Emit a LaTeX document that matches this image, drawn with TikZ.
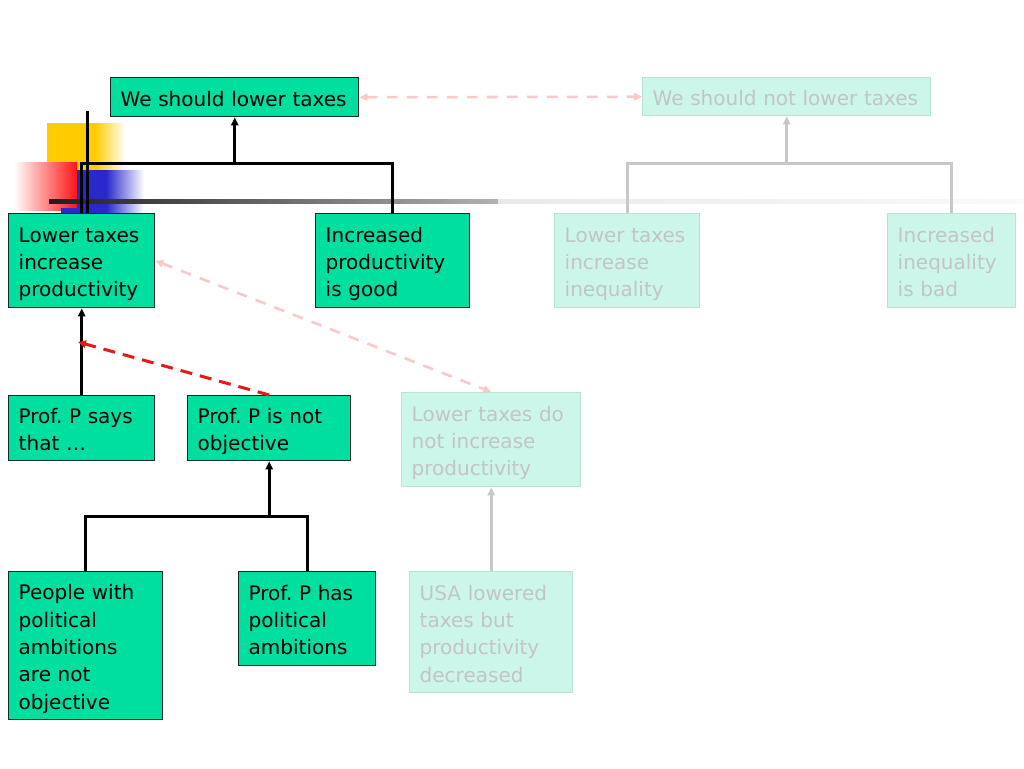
\documentclass[tikz,border=0pt]{standalone}
\usepackage{fontspec}
\setmainfont{DejaVu Sans}
\usetikzlibrary{arrows.meta}
\frenchspacing
\definecolor{gfill}{RGB}{0,222,160}
\definecolor{gdraw}{RGB}{20,45,35}
\definecolor{pfill}{RGB}{204,246,234}
\definecolor{pdraw}{RGB}{185,228,212}
\definecolor{ptext}{RGB}{196,196,196}
\definecolor{gline}{RGB}{200,200,200}
\definecolor{redline}{RGB}{230,25,25}
\definecolor{pinkline}{RGB}{250,200,200}
\definecolor{tyellow}{RGB}{255,204,0}
\definecolor{tblue}{RGB}{40,40,205}
\definecolor{tred}{RGB}{255,20,20}
\newcommand{\topstrut}{\rule{0pt}{16.8pt}}
\newcommand{\botstrut}{\rule[-3.5pt]{0pt}{3.5pt}}
\begin{document}
\begin{tikzpicture}[x=0.75pt,y=-0.75pt,
  boxbase/.style={rectangle, anchor=north west, align=left, inner xsep=7.5pt, inner ysep=0pt,
    font=\fontsize{15}{20.5}\selectfont, line width=1.1pt,
    execute at begin node=\topstrut, execute at end node=\botstrut},
  gbox/.style={boxbase, fill=gfill, draw=gdraw, text=black},
  pbox/.style={boxbase, fill=pfill, draw=pdraw, text=ptext},
  conn/.style={line width=2.25pt, draw=black},
  gconn/.style={line width=2.25pt, draw=gline},
  tip/.style={-{Triangle[length=6pt,width=5.5pt]}},
  reddash/.style={line width=2.25pt, draw=redline, dash pattern=on 9pt off 6pt},
  pinkdash/.style={line width=1.9pt, draw=pinkline, dash pattern=on 8pt off 7pt},
]
\useasboundingbox (0,0) rectangle (1024,768);
\fill[white] (0,0) rectangle (1024,768);

% template decoration
\fill[tyellow] (47,123) rectangle (95,178);
\shade[left color=tyellow, right color=white] (95,123) rectangle (125,178);
\shade[left color=white, right color=tred] (14,162) rectangle (77,210);
\fill[tblue] (77,170) rectangle (106,213);
\shade[left color=tblue, right color=white] (106,170) rectangle (144,213);
\fill[tblue] (61,208) rectangle (77,213);
\shade[left color=black!88, right color=black!30] (49,199) rectangle (498,203.5);
\shade[left color=black!9, right color=black!2] (498,199.5) rectangle (1024,203);
\draw[line width=2.25pt] (87,111) -- (87,213);

% nodes
\node[gbox, text width=171pt, minimum height=29.25pt] (a) at (110,77) {We should lower taxes};
\node[pbox, text width=201pt, minimum height=28.5pt] (b) at (642,77) {We should not lower taxes};
\node[gbox, text width=94.5pt, minimum height=70.5pt] (c) at (8,213) {Lower taxes\\increase\\productivity};
\node[gbox, text width=100.5pt, minimum height=70.5pt] (d) at (315,213) {Increased\\productivity\\is good};
\node[pbox, text width=93.75pt, minimum height=70.5pt] (e) at (554,213) {Lower taxes\\increase\\inequality};
\node[pbox, text width=81pt, minimum height=70.5pt] (f) at (887,213) {Increased\\inequality\\is bad};
\node[gbox, text width=94.5pt, minimum height=48.75pt] (g) at (8,395) {Prof. P says\\that …};
\node[gbox, text width=107.25pt, minimum height=48.75pt] (h) at (187,395) {Prof. P is not\\objective};
\node[pbox, text width=119.25pt, minimum height=70.5pt] (i) at (401,392) {Lower taxes do\\not increase\\productivity};
\node[gbox, text width=100.5pt, minimum height=111pt] (j) at (8,571) {People with\\political\\ambitions\\are not\\objective};
\node[gbox, text width=87.75pt, minimum height=70.5pt] (k) at (238,571) {Prof. P has\\political\\ambitions};
\node[pbox, text width=107.25pt, minimum height=90.75pt] (l) at (409,571) {USA lowered\\taxes but\\productivity\\decreased};

% connectors
\coordinate (ja) at (a.south |- 0,163);
\draw[conn] (c.north) |- (ja) -| (d.north);
\draw[conn, tip] (ja) -- (a.south);

\coordinate (jb) at (b.south |- 0,163);
\draw[gconn] (e.north) |- (jb) -| (f.north);
\draw[gconn, tip] (jb) -- (b.south);

\draw[conn, tip] (g.north) -- (c.south);

\coordinate (jh) at (h.south |- 0,516);
\draw[conn] (j.north) |- (jh) -| (k.north);
\draw[conn, tip] (jh) -- (h.south);

\draw[gconn, tip] (l.north) -- (i.south);

\coordinate (rt) at (78,342);
\draw[reddash, tip] (h.north) -- (rt);

\draw[pinkdash, {Triangle[length=6pt,width=5.5pt]}-{Triangle[length=6pt,width=5.5pt]}] (c.east) -- (i.north);
\draw[pinkdash, {Triangle[length=6pt,width=5.5pt]}-{Triangle[length=6pt,width=5.5pt]}] (a.east) -- (b.west);
\end{tikzpicture}
\end{document}
